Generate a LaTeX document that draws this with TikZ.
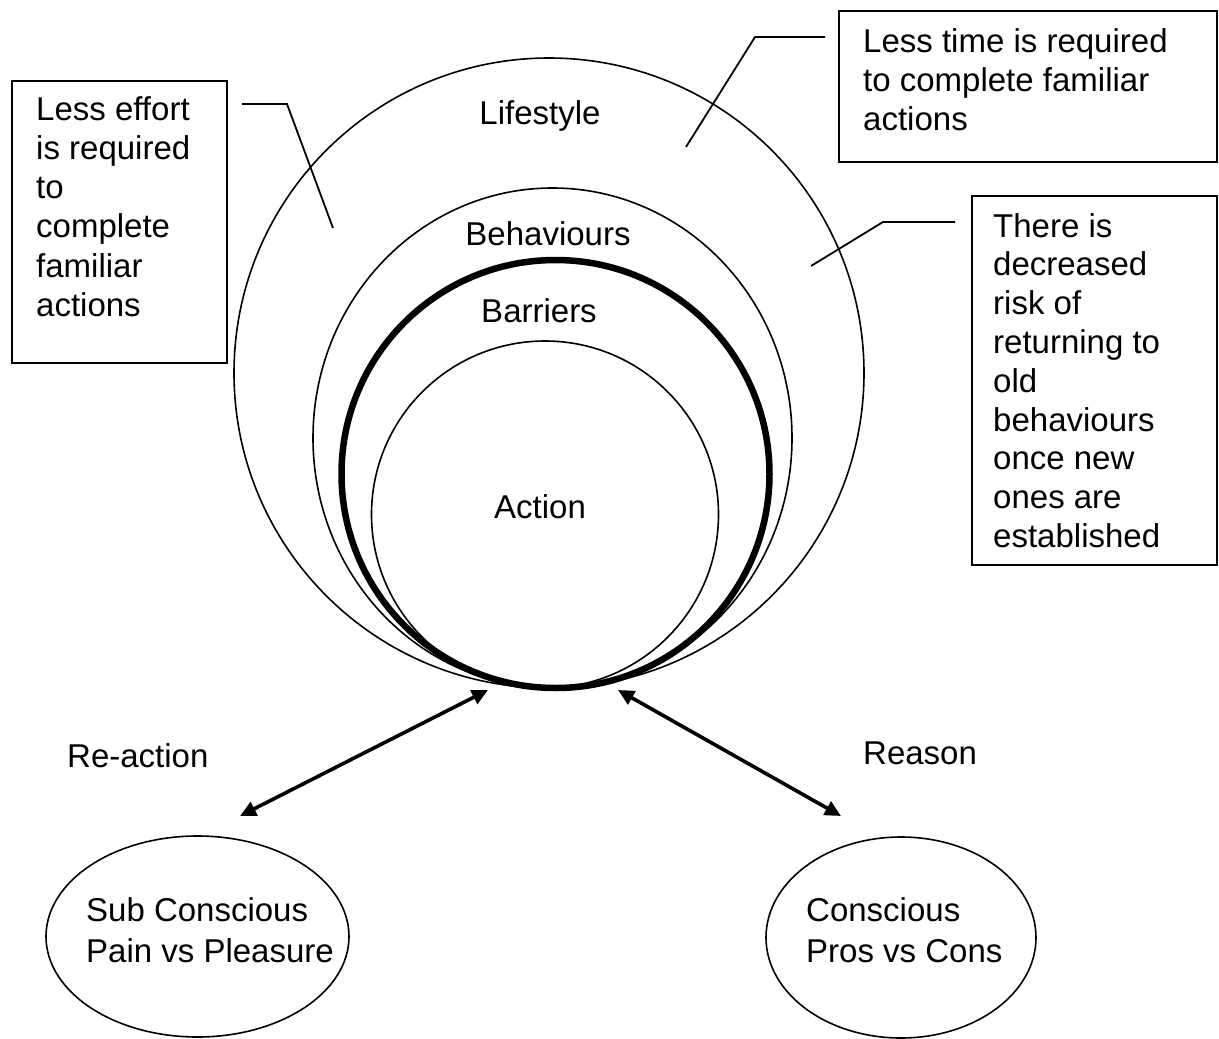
\documentclass[tikz,border=0pt]{standalone}
\usepackage{fontspec}
\setmainfont{Liberation Sans}
\usetikzlibrary{arrows.meta,shapes.geometric}
\tikzset{
  ring/.style={draw, circle, inner sep=0pt, line width=1.6pt},
  oval/.style={draw, ellipse, inner sep=0pt, line width=1.6pt},
  thickring/.style={draw, circle, inner sep=0pt, line width=6.5pt},
  note/.style={draw, rectangle, inner sep=0pt, line width=1.8pt},
  lbl/.style={inner sep=0pt, font=\fontsize{33}{39}\selectfont},
  body/.style={inner sep=0pt, align=left, anchor=north west},
  leader/.style={line width=1.8pt},
  twoway/.style={line width=3.6pt, {Triangle[length=16pt,width=15pt]}-{Triangle[length=16pt,width=15pt]}}
}
\begin{document}
\begin{tikzpicture}[x=1pt,y=-1pt]
\useasboundingbox[fill=white] (0,0) rectangle (1219,1039);
% circles
\node[ring, minimum size=630pt] (lifestyle) at (549,373) {};
\node[oval, minimum width=479pt, minimum height=500pt] (behaviours) at (552.5,438) {};
\node[thickring, minimum size=428pt] (barriers) at (555.5,474) {};
\node[ring, minimum size=347pt] (action) at (545,514.5) {};
% circle labels
\node[lbl, anchor=base] (tlife) at (540,124) {Lifestyle};
\node[lbl, anchor=base] (tbeh) at (548,245) {Behaviours};
\node[lbl, anchor=base] (tbar) at (539,322) {Barriers};
\node[lbl, anchor=base] (tact) at (540,518) {Action};
% boxes
\node[note, minimum width=215pt, minimum height=282pt] (effort) at (119.5,222) {};
\node[note, minimum width=378pt, minimum height=151pt] (timebox) at (1028,86.5) {};
\node[note, minimum width=245pt, minimum height=369pt] (riskbox) at (1094.5,380.5) {};
\node[lbl, body, font=\fontsize{33}{39.3}\selectfont] (efftext) at (36,96) {Less effort\\is required\\to\\complete\\familiar\\actions};
\node[lbl, body, font=\fontsize{33}{39}\selectfont] (timetext) at (863,28) {Less time is required\\to complete familiar\\actions};
\node[lbl, body, font=\fontsize{33}{38.8}\selectfont] (risktext) at (993,213) {There is\\decreased\\risk of\\returning to\\old\\behaviours\\once new\\ones are\\established};
% leader lines
\coordinate (e1) at (242,104);
\coordinate (e2) at (287,104);
\coordinate (e3) at (333,228);
\draw[leader] (e1) -- (e2) -- (e3);
\coordinate (t1) at (825,37);
\coordinate (t2) at (755,37);
\coordinate (t3) at (686,147);
\draw[leader] (t1) -- (t2) -- (t3);
\coordinate (r1) at (955,222);
\coordinate (r2) at (883,222);
\coordinate (r3) at (811,266);
\draw[leader] (r1) -- (r2) -- (r3);
% bottom ellipses
\node[oval, minimum width=303pt, minimum height=201pt] (subc) at (197.5,936.5) {};
\node[oval, minimum width=270pt, minimum height=201pt] (consc) at (901,937.5) {};
\node[lbl, body, font=\fontsize{33}{41}\selectfont] (subtext) at (86,897) {Sub Conscious\\Pain vs Pleasure};
\node[lbl, body, font=\fontsize{33}{41}\selectfont] (context) at (806,897) {Conscious\\Pros vs Cons};
% arrows
\coordinate (a1) at (488,690);
\coordinate (a2) at (240,816);
\coordinate (b1) at (618,690);
\coordinate (b2) at (841,816);
\draw[twoway] (a1) -- (a2);
\draw[twoway] (b1) -- (b2);
\node[lbl, anchor=base west] (react) at (67,767) {Re-action};
\node[lbl, anchor=base west] (reason) at (863,764) {Reason};
\end{tikzpicture}
\end{document}
